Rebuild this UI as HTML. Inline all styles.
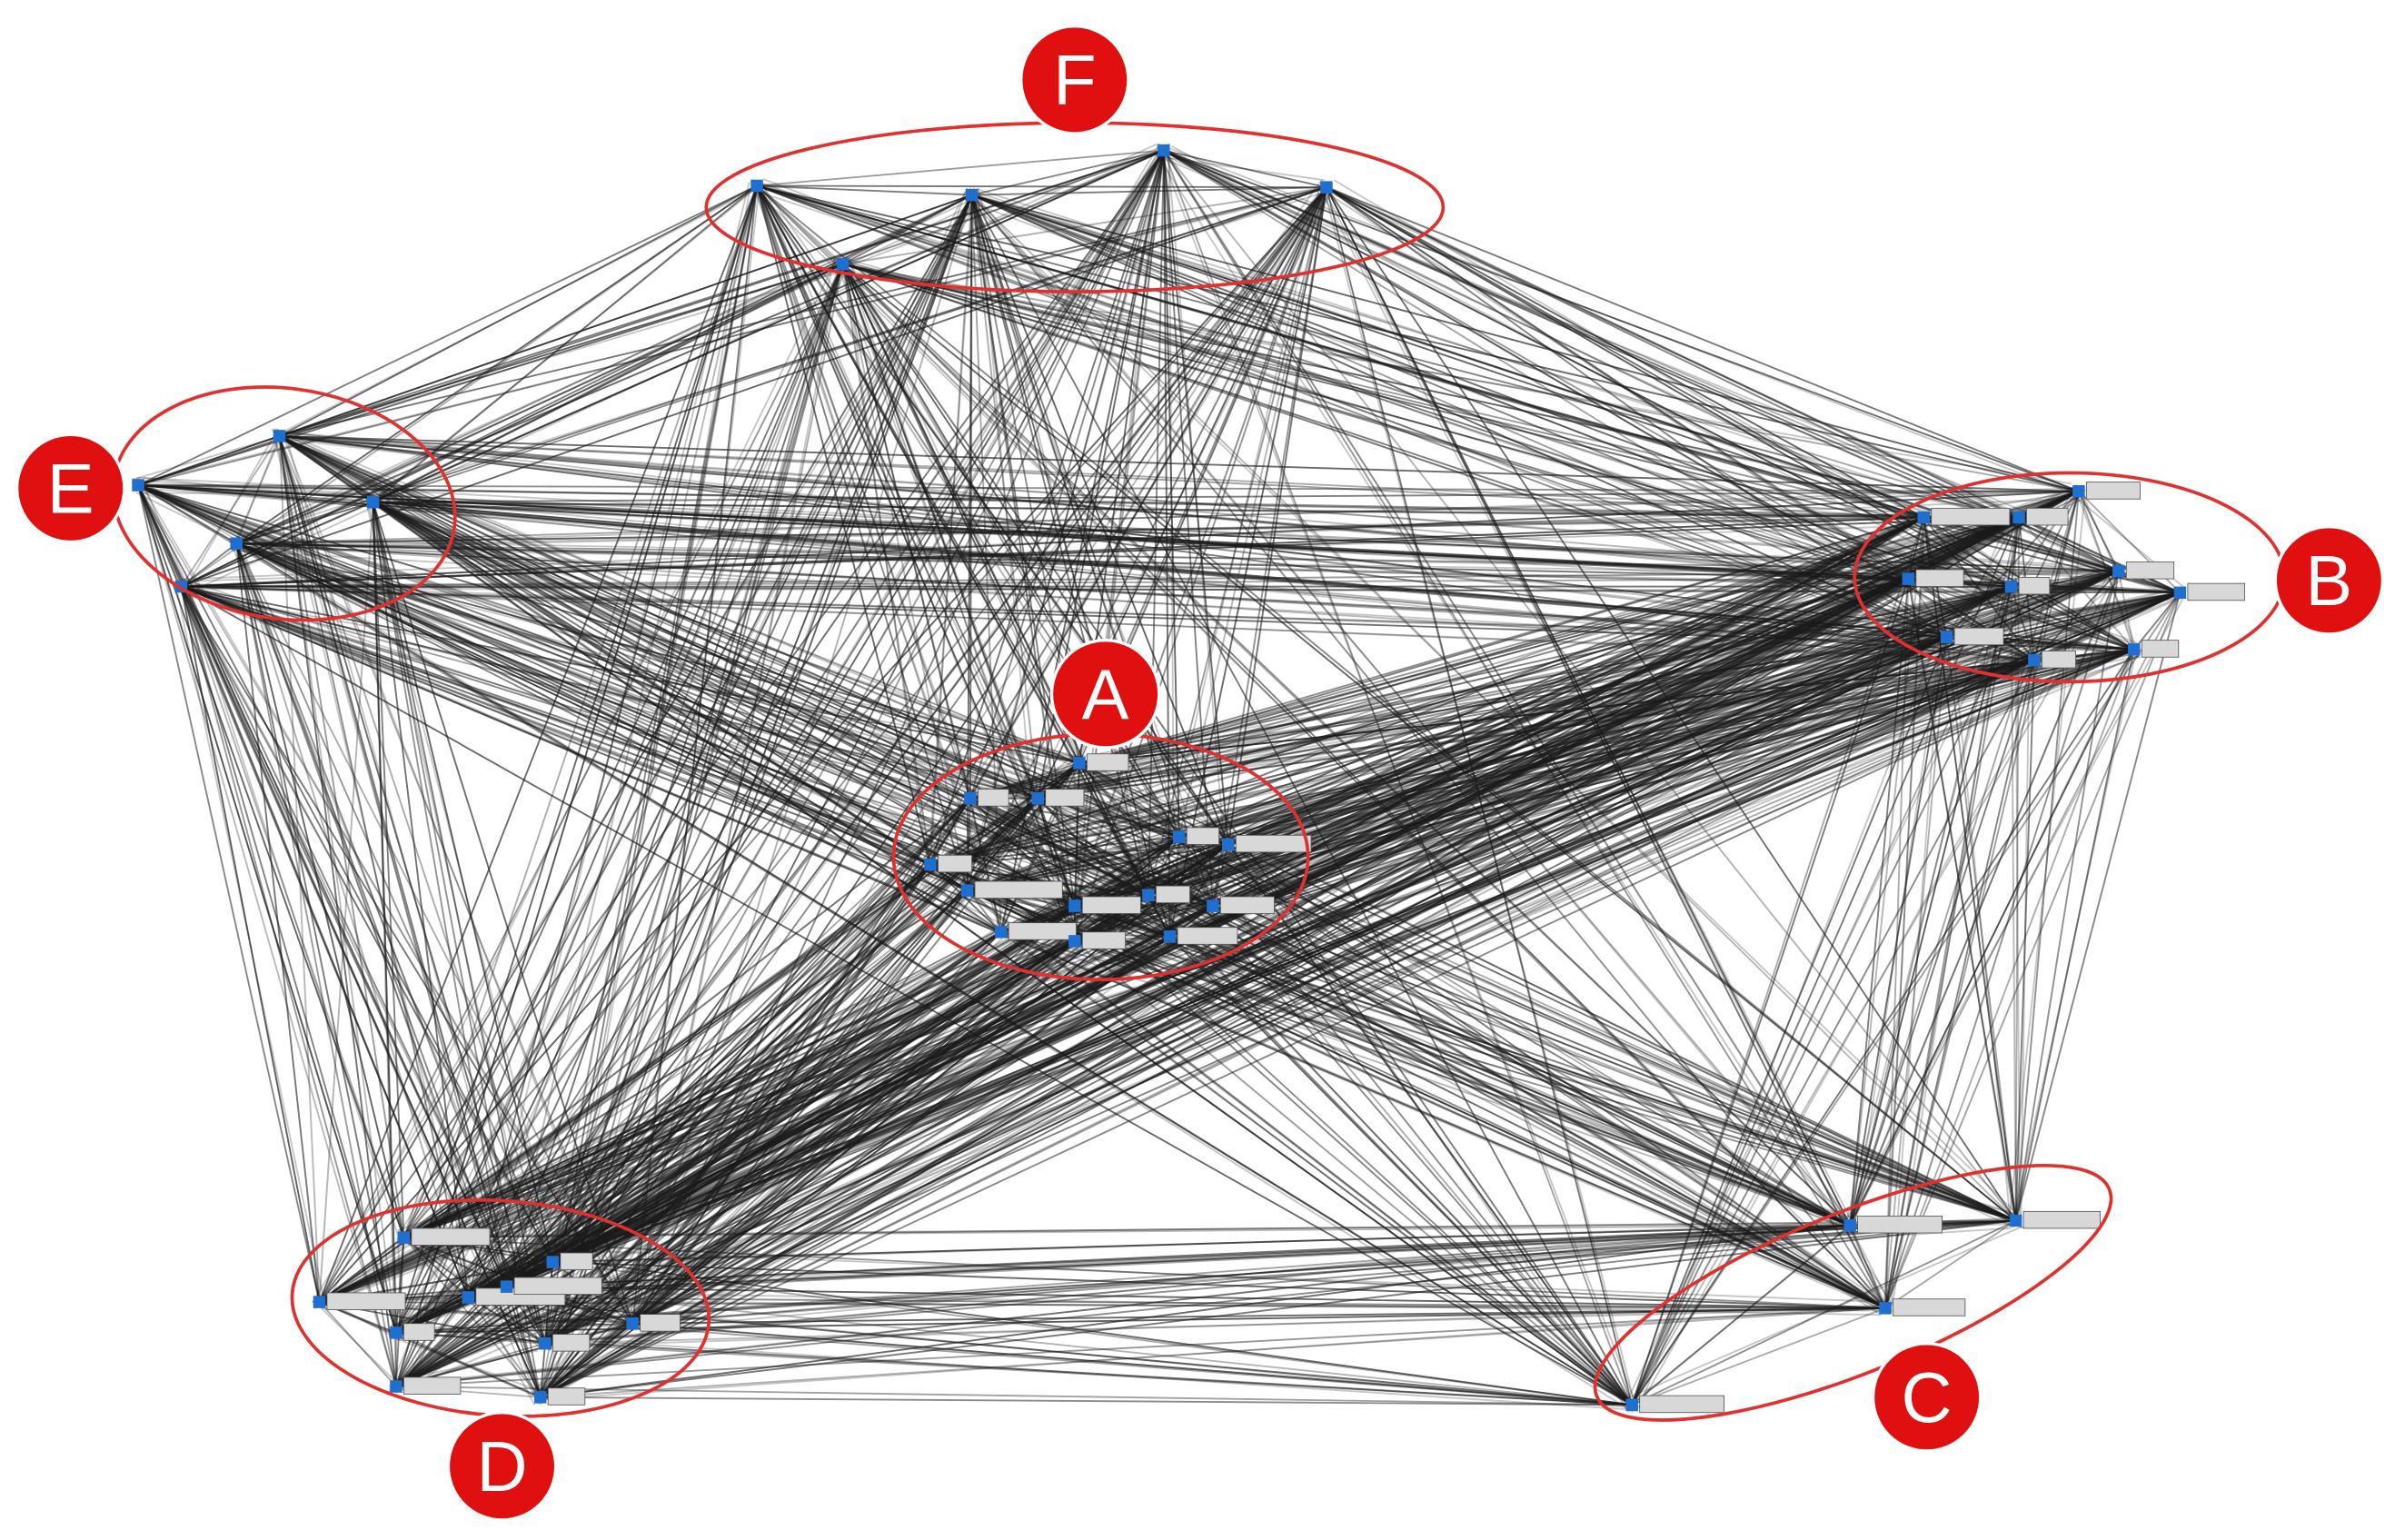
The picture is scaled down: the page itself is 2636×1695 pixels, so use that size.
<!DOCTYPE html>
<html><head><meta charset="utf-8"><style>
html,body{margin:0;padding:0;background:#fff;width:2636px;height:1695px;overflow:hidden}
svg{display:block}
text{font-family:"Liberation Sans",sans-serif}
</style></head><body>
<svg id="s" width="2636" height="1695" viewBox="0 0 1560 1003" preserveAspectRatio="none" xmlns="http://www.w3.org/2000/svg">
<rect width="1560" height="1003" fill="#fff"/>
<g id="edges" stroke="#1a1a1a" stroke-width="1.1"></g>
<g id="boxes" fill="#d8d8d8" stroke="#555" stroke-width="0.5"></g>
<g id="nodes" fill="#1f6fd0"></g>
<g fill="none" stroke="#e03030" stroke-width="2.2">
<ellipse cx="700" cy="135" rx="240" ry="55"/>
<ellipse cx="185" cy="328" rx="112" ry="75" transform="rotate(8 185 328)"/>
<ellipse cx="717" cy="558" rx="135" ry="80"/>
<ellipse cx="1348" cy="376" rx="140" ry="68"/>
<ellipse cx="326" cy="852" rx="136" ry="70" transform="rotate(4 326 852)"/>
<ellipse cx="1207" cy="842" rx="180" ry="52" transform="rotate(-22 1207 842)"/>
</g>
<g fill="#e01010" stroke="#fff" stroke-width="2">
<circle cx="700" cy="52" r="35"/><circle cx="46" cy="318" r="35"/><circle cx="720" cy="452" r="35"/>
<circle cx="1517" cy="378" r="35"/><circle cx="1255" cy="910" r="35"/><circle cx="327" cy="955" r="35"/>
</g>
<g fill="#fff" font-size="46" text-anchor="middle">
<text x="700" y="68">F</text><text x="46" y="334">E</text><text x="720" y="468">A</text>
<text x="1517" y="394">B</text><text x="1255" y="926">C</text><text x="327" y="971">D</text>
</g>
</svg>
<script>
var C={
F:[[493,121],[549,172],[633,127],[758,98],[864,122]],
E:[[90,316],[182,284],[243,327],[154,354],[118,382]],
B:[[1253,337],[1315,337],[1354,320],[1243,377],[1310,382],[1380,372],[1420,386],[1268,415],[1325,430],[1390,423]],
A:[[703,497],[632,520],[676,520],[606,563],[630,580],[768,545],[800,550],[700,590],[748,583],[790,590],[652,607],[700,613],[762,610]],
D:[[263,806],[208,848],[258,868],[305,845],[360,822],[412,862],[258,903],[352,910],[355,875],[330,838]],
C:[[1205,798],[1313,795],[1228,852],[1063,915]]};
var all=[];for(var k in C)C[k].forEach(function(p){all.push(p)});
var e=document.getElementById('edges'),seed=7;
function r(){seed=(seed*16807)%2147483647;return seed/2147483647}
var h='';
for(var i=0;i<all.length;i++)for(var j=i+1;j<all.length;j++){
 var o=(0.3+r()*0.4).toFixed(2);
 h+='<line x1="'+all[i][0]+'" y1="'+all[i][1]+'" x2="'+all[j][0]+'" y2="'+all[j][1]+'" stroke-opacity="'+o+'"/>';
 if(r()<0.5){var dx=(r()-0.5)*10,dy=(r()-0.5)*10;
 h+='<line x1="'+(all[i][0]+dx)+'" y1="'+(all[i][1]+dy)+'" x2="'+(all[j][0]-dx)+'" y2="'+(all[j][1]-dy)+'" stroke-opacity="0.25"/>';}}
e.innerHTML=h;
var b='';
C.A.concat(C.B,C.D,C.C).forEach(function(p){var w=20+Math.floor(r()*40);b+='<rect x="'+(p[0]+5)+'" y="'+(p[1]-6)+'" width="'+w+'" height="11"/>';});
document.getElementById('boxes').innerHTML=b;
var n='';all.forEach(function(p){n+='<rect x="'+(p[0]-4)+'" y="'+(p[1]-4)+'" width="8" height="8"/>'});
document.getElementById('nodes').innerHTML=n;
</script>
</body></html>
